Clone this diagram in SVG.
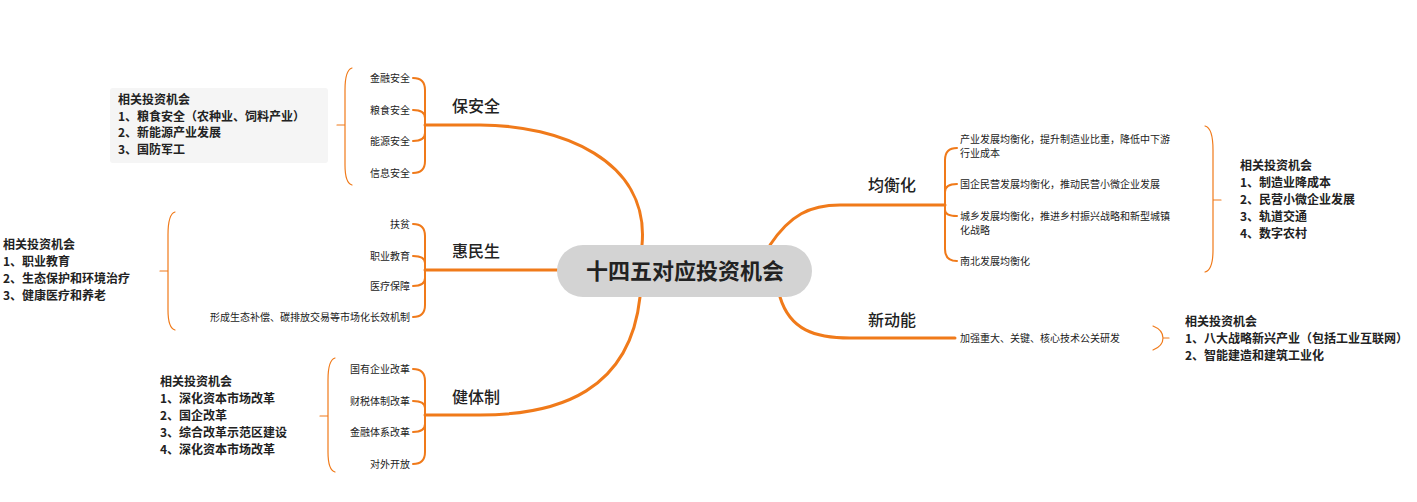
<svg xmlns="http://www.w3.org/2000/svg" width="1417" height="502" viewBox="0 0 1417 502">
<style>
.m{fill:none;stroke:#f07a1a;stroke-width:3;stroke-linecap:round}
.b{fill:none;stroke:#f07a1a;stroke-width:2;stroke-linecap:round}
.t{fill:none;stroke:#f07a1a;stroke-width:1.2;stroke-linecap:round}
text{font-family:"Microsoft YaHei","Noto Sans CJK SC",sans-serif;fill:#222}
.i{font-size:10px}
.l{font-size:16px;font-weight:500}
.r{font-size:12px;font-weight:bold}
</style>
<rect width="1417" height="502" fill="#fff"/>
<g id="connectors">
<path class="m" d="M642,245 C650,160 560,125 480,125 L425,125"/>
<path class="m" d="M557,270 L425,270"/>
<path class="m" d="M640,297 C630,390 560,415 480,415 L425,415"/>
<path class="m" d="M770,245 C790,215 810,205 840,205 L945,205"/>
<path class="m" d="M780,297 C790,330 815,338 850,338 L955,338"/>
<path class="b" d="M413,78 Q425,78 425,90 L425,161 Q425,173 413,173 M413,110 Q425,110 425,118 M413,141 Q425,141 425,133"/>
<path class="b" d="M413,224 Q425,224 425,236 L425,305 Q425,317 413,317 M413,256 Q425,256 425,263 M413,286 Q425,286 425,278"/>
<path class="b" d="M413,369 Q425,369 425,381 L425,452 Q425,464 413,464 M413,401 Q425,401 425,408 M413,432 Q425,432 425,424"/>
<path class="b" d="M957,148 Q945,148 945,160 L945,249 Q945,261 957,261 M957,184 Q945,184 945,192 M957,216 Q945,216 945,210"/>
<path class="t" d="M352,68 Q345,70 345,90 L345,165 Q345,183 352,185 M345,125 L337,125"/>
<path class="t" d="M175,212 Q168,214 168,235 L168,310 Q168,328 175,330 M168,271 L160,271"/>
<path class="t" d="M335,358 Q328,360 328,380 L328,452 Q328,470 335,472 M328,416 L320,416"/>
<path class="t" d="M1205,126 Q1213,128 1213,150 L1213,250 Q1213,270 1205,272 M1213,200 L1221,200"/>
<path class="t" d="M1153,326 Q1163,330 1163,338 Q1163,346 1153,350 M1163,338 L1169,338"/>
</g>
<g id="center"><rect x="557" y="245" width="255" height="52" rx="26" fill="#d3d3d3"/><text x="685" y="279" font-size="22" font-weight="bold" text-anchor="middle">十四五对应投资机会</text></g>
<g id="baoanquan">
<text class="l" x="476" y="112" text-anchor="middle">保安全</text>
<g class="i" text-anchor="end"><text class="i" x="410" y="82">金融安全</text><text class="i" x="410" y="114">粮食安全</text><text class="i" x="410" y="145">能源安全</text><text class="i" x="410" y="177">信息安全</text></g>
<rect x="110" y="88" width="218" height="75" rx="3" fill="#f5f5f5"/>
<text class="r" x="118" y="104">相关投资机会</text><text class="r" x="118" y="121">1、粮食安全（农种业、饲料产业）</text><text class="r" x="118" y="137">2、新能源产业发展</text><text class="r" x="118" y="154">3、国防军工</text>
</g>
<g id="huiminsheng">
<text class="l" x="476" y="257" text-anchor="middle">惠民生</text>
<text class="i" x="410" y="228" text-anchor="end">扶贫</text><text class="i" x="410" y="260" text-anchor="end">职业教育</text><text class="i" x="410" y="290" text-anchor="end">医疗保障</text><text class="i" x="410" y="321" text-anchor="end">形成生态补偿、碳排放交易等市场化长效机制</text>
<text class="r" x="3" y="249">相关投资机会</text><text class="r" x="3" y="266">1、职业教育</text><text class="r" x="3" y="283">2、生态保护和环境治疗</text><text class="r" x="3" y="300">3、健康医疗和养老</text>
</g>
<g id="jiantizhi">
<text class="l" x="476" y="403" text-anchor="middle">健体制</text>
<text class="i" x="410" y="373" text-anchor="end">国有企业改革</text><text class="i" x="410" y="405" text-anchor="end">财税体制改革</text><text class="i" x="410" y="436" text-anchor="end">金融体系改革</text><text class="i" x="410" y="468" text-anchor="end">对外开放</text>
<text class="r" x="160" y="386">相关投资机会</text><text class="r" x="160" y="403">1、深化资本市场改革</text><text class="r" x="160" y="420">2、国企改革</text><text class="r" x="160" y="437">3、综合改革示范区建设</text><text class="r" x="160" y="454">4、深化资本市场改革</text>
</g>
<g id="junhenghua">
<text class="l" x="892" y="191" text-anchor="middle">均衡化</text>
<text class="i" x="960" y="143">产业发展均衡化，提升制造业比重，降低中下游</text><text class="i" x="960" y="157">行业成本</text>
<text class="i" x="960" y="188">国企民营发展均衡化，推动民营小微企业发展</text>
<text class="i" x="960" y="220">城乡发展均衡化，推进乡村振兴战略和新型城镇</text><text class="i" x="960" y="234">化战略</text>
<text class="i" x="960" y="265">南北发展均衡化</text>
<text class="r" x="1240" y="170">相关投资机会</text><text class="r" x="1240" y="187">1、制造业降成本</text><text class="r" x="1240" y="204">2、民营小微企业发展</text><text class="r" x="1240" y="221">3、轨道交通</text><text class="r" x="1240" y="238">4、数字农村</text>
</g>
<g id="xindongneng">
<text class="l" x="892" y="326" text-anchor="middle">新动能</text>
<text class="i" x="960" y="342">加强重大、关键、核心技术公关研发</text>
<text class="r" x="1185" y="326">相关投资机会</text><text class="r" x="1185" y="343">1、八大战略新兴产业（包括工业互联网）</text><text class="r" x="1185" y="360">2、智能建造和建筑工业化</text>
</g>
</svg>
